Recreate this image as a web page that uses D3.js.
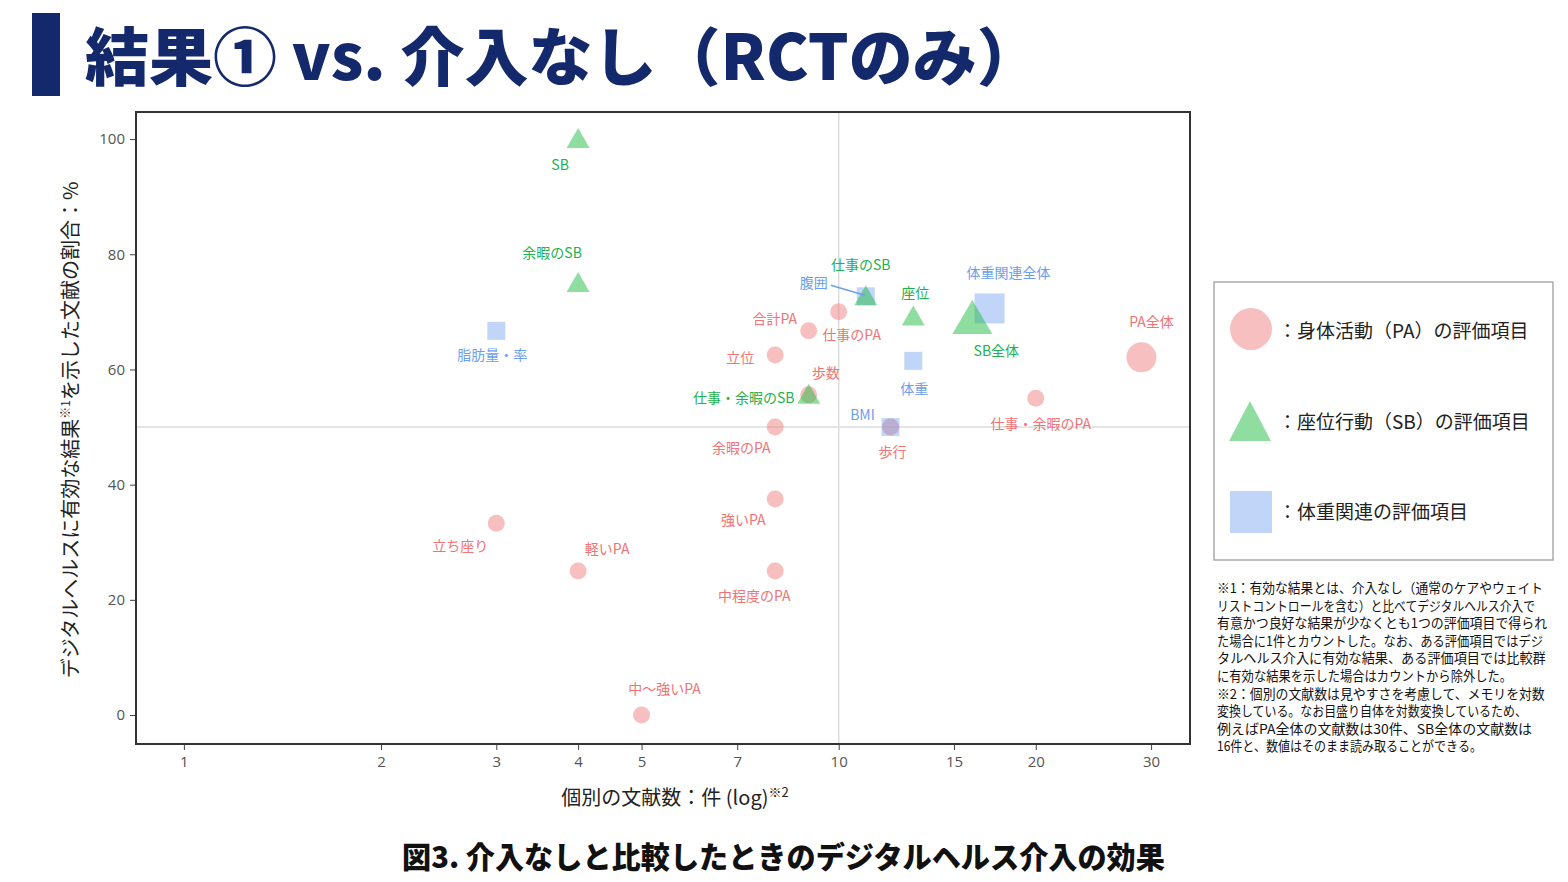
<!DOCTYPE html>
<html><head><meta charset="utf-8">
<script src="https://cdn.jsdelivr.net/npm/d3@7"></script>
<style>
body{margin:0;background:#fff;}
svg{display:block;font-family:"Noto Sans CJK JP","Noto Sans",sans-serif;}
</style></head>
<body>
<svg id="chart" width="1568" height="882"></svg>
<script>
// ---- data ----
const names = ["合計PA","仕事のPA","立位","歩数","余暇のPA","強いPA","中程度のPA","立ち座り","軽いPA","中〜強いPA","歩行","仕事・余暇のPA","PA全体",
               "SB","余暇のSB","仕事のSB","座位","SB全体","仕事・余暇のSB",
               "脂肪量・率","腹囲","体重関連全体","体重","BMI"];
const groups = ["PA","PA","PA","PA","PA","PA","PA","PA","PA","PA","PA","PA","PA",
                "SB","SB","SB","SB","SB","SB",
                "W","W","W","W","W"];
const counts = [9,10,8,9,8,8,8,3,4,5,12,20,29,
                4,4,11,13,16,9,
                3,11,17,13,12];
const percents = [66.7,70,62.5,55.6,50,37.5,25,33.3,25,0,50,55,62.1,
                  100,75,72.7,69.2,68.8,55.6,
                  66.7,72.7,70.6,61.5,50];
const xTicks = [1,2,3,4,5,7,10,15,20,30];
const yTicks = [0,20,40,60,80,100];
const legendLabels = ["：身体活動（PA）の評価項目","：座位行動（SB）の評価項目","：体重関連の評価項目"];
const footnotes = [
 "※1：有効な結果とは、介入なし（通常のケアやウェイト",
 "リストコントロールを含む）と比べてデジタルヘルス介入で",
 "有意かつ良好な結果が少なくとも1つの評価項目で得られ",
 "た場合に1件とカウントした。なお、ある評価項目ではデジ",
 "タルヘルス介入に有効な結果、ある評価項目では比較群",
 "に有効な結果を示した場合はカウントから除外した。",
 "※2：個別の文献数は見やすさを考慮して、メモリを対数",
 "変換している。なお目盛り自体を対数変換しているため、",
 "例えばPA全体の文献数は30件、SB全体の文献数は",
 "16件と、数値はそのまま読み取ることができる。"
];
// layout: label offsets (px) per point, same order as names
const labelOffsets = [[-34,-13],[13,22],[-35,2],[17,-23],[-34,20],[-32,20],[-21,24],[-36,22],[29,-23],[23,-27],[2,24],[5,25],[10,-36],
                      [-18,25],[-26,-31],[-5,-32],[2,-24],[24,31],[-65,2],
                      [-4,23],[-52,-14],[19,-36],[1,27],[-28,-13]];
// layout: footnote line widths (px)
const footWidths = [326,318,330,326,329,295,328,310,315,265];

// ---- styles ----
const fillC = {PA:"rgba(240,128,128,0.5)", SB:"rgba(34,187,68,0.5)", W:"rgba(100,149,237,0.4)"};
const textC = {PA:"#f07474", SB:"#22b14c", W:"#6d9eeb"};
const navy = "#13296b";

const svg = d3.select("#chart");
const L=136, R=1190, T=112, B=744;
const x = d3.scaleLog().domain([0.845,34.4]).range([L,R]);
const y = d3.scaleLinear().domain([-5.03,104.7]).range([B,T]);

// helper: fit text horizontally to a width via transform scale
function fitText(sel, tx, ty, width){
  const n = sel.node().getComputedTextLength();
  const s = width / n;
  sel.attr("transform",`translate(${tx},${ty}) scale(${s},1)`);
}

// title
svg.append("rect").attr("x",32).attr("y",13).attr("width",28).attr("height",83).attr("fill",navy);
const title = svg.append("text").attr("x",0).attr("y",0).attr("font-size",63).attr("font-weight",900)
  .attr("fill",navy).text("結果① vs. 介入なし（RCTのみ）");
fitText(title,85,80,956);

// reference lines
svg.append("line").attr("x1",x(10)).attr("x2",x(10)).attr("y1",T).attr("y2",B).attr("stroke","#dcdcdc").attr("stroke-width",1.5);
svg.append("line").attr("x1",L).attr("x2",R).attr("y1",y(50)).attr("y2",y(50)).attr("stroke","#dcdcdc").attr("stroke-width",1.5);

// axes
const xa = svg.append("g").attr("transform",`translate(0,${B})`)
  .call(d3.axisBottom(x).tickValues(xTicks).tickFormat(d3.format("d")).tickSize(6).tickPadding(6));
const ya = svg.append("g").attr("transform",`translate(${L},0)`)
  .call(d3.axisLeft(y).tickValues(yTicks).tickSize(6).tickPadding(5));
[xa,ya].forEach(g=>{
  g.select(".domain").remove();
  g.selectAll(".tick line").attr("stroke","#444");
  g.selectAll(".tick text").attr("fill","#555").attr("font-size",15).attr("font-family","'Open Sans','DejaVu Sans',sans-serif");
});

// frame
svg.append("rect").attr("x",L).attr("y",T).attr("width",R-L).attr("height",B-T)
  .attr("fill","none").attr("stroke","#333").attr("stroke-width",2);

// axis titles
const yt = svg.append("text").attr("transform","translate(78,430) rotate(-90)")
  .attr("text-anchor","middle").attr("font-size",20).attr("fill","#222");
yt.append("tspan").text("デジタルヘルスに有効な結果");
yt.append("tspan").attr("font-size",12).attr("dy",-8).text("※1");
yt.append("tspan").attr("dy",8).text("を示した文献の割合：%");

const xt = svg.append("text").attr("x",675).attr("y",805)
  .attr("text-anchor","middle").attr("font-size",20).attr("fill","#222");
xt.append("tspan").text("個別の文献数：件 (log)");
xt.append("tspan").attr("font-size",13).attr("dy",-8).text("※2");

// caption
const cap = svg.append("text").attr("x",0).attr("y",0).attr("font-size",30).attr("font-weight",900)
  .attr("fill","#111").text("図3. 介入なしと比較したときのデジタルヘルス介入の効果");
fitText(cap,402,868,763);

// points
const data = names.map((n,i)=>({name:n,group:groups[i],count:counts[i],pct:percents[i],off:labelOffsets[i],big:n.endsWith("全体")}));
const order = {PA:0,W:1,SB:2};
const pts = data.slice().sort((a,b)=>order[a.group]-order[b.group]);
const gP = svg.append("g");
pts.forEach(d=>{
  const cx=x(d.count), cy=y(d.pct);
  if(d.group==="PA"){
    gP.append("circle").attr("cx",cx).attr("cy",cy).attr("r",d.big?15:8.5).attr("fill",fillC.PA);
  } else if(d.group==="SB"){
    const w=d.big?40:23, h=d.big?34:20;
    gP.append("path").attr("d",`M${cx},${cy-h*0.55}L${cx+w/2},${cy+h*0.45}L${cx-w/2},${cy+h*0.45}Z`).attr("fill",fillC.SB);
  } else {
    const s=d.big?30:18;
    gP.append("rect").attr("x",cx-s/2).attr("y",cy-s/2).attr("width",s).attr("height",s).attr("fill",fillC.W);
  }
});

// leader line for 腹囲
const waist = data.find(d=>d.name==="腹囲");
svg.append("line").attr("x1",x(waist.count)+waist.off[0]+17).attr("y1",y(waist.pct)+waist.off[1]+3)
  .attr("x2",x(waist.count)-1).attr("y2",y(waist.pct)-1).attr("stroke","#6d9eeb").attr("stroke-width",1.5);

// labels
svg.append("g").selectAll("text").data(data).join("text")
  .attr("x",d=>x(d.count)+d.off[0]).attr("y",d=>y(d.pct)+d.off[1])
  .attr("text-anchor","middle").attr("dominant-baseline","central")
  .attr("font-size",14).attr("fill",d=>textC[d.group]).text(d=>d.name);

// legend
svg.append("rect").attr("x",1214).attr("y",282).attr("width",339).attr("height",278)
  .attr("fill","#fff").attr("stroke","#aaa").attr("stroke-width",1.5);
const lg = svg.append("g");
lg.append("circle").attr("cx",1251).attr("cy",329).attr("r",21).attr("fill",fillC.PA);
lg.append("path").attr("d","M1250,401L1271,441L1229,441Z").attr("fill",fillC.SB);
lg.append("rect").attr("x",1230).attr("y",491).attr("width",42).attr("height",42).attr("fill",fillC.W);
const ly=[329,420,510];
legendLabels.forEach((t,i)=>{
  lg.append("text").attr("x",1278).attr("y",ly[i]).attr("dominant-baseline","central")
    .attr("font-size",19).attr("fill","#222").text(t);
});

// footnotes
footnotes.forEach((t,i)=>{
  const ft = svg.append("text").attr("x",0).attr("y",0).attr("font-size",13.4).attr("fill","#111").text(t);
  fitText(ft,1217,593+i*17.6,footWidths[i]);
});
</script>
</body></html>
